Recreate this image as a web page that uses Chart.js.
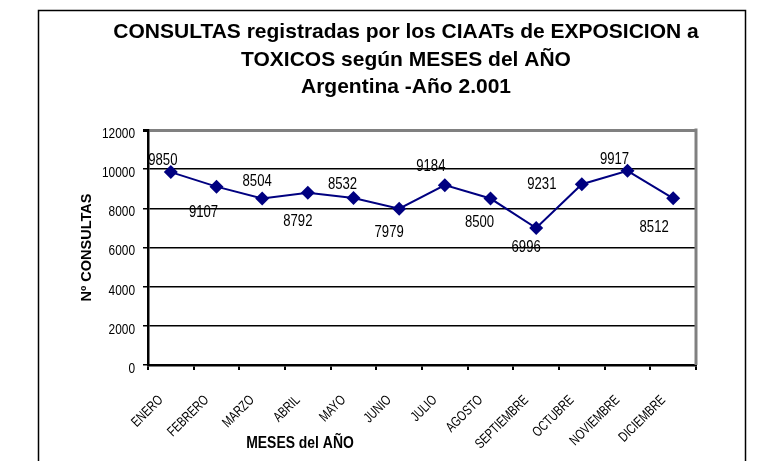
<!DOCTYPE html>
<html>
<head>
<meta charset="utf-8">
<script src="https://cdn.jsdelivr.net/npm/chart.js@4"></script>
<style>
  html, body { margin: 0; padding: 0; background: #fff; }
  #wrap { width: 776px; height: 461px; }
</style>
</head>
<body>
<div id="wrap"><canvas id="chart" width="776" height="461"></canvas></div>
<script>
const meses = ['ENERO', 'FEBRERO', 'MARZO', 'ABRIL', 'MAYO', 'JUNIO', 'JULIO', 'AGOSTO', 'SEPTIEMBRE', 'OCTUBRE', 'NOVIEMBRE', 'DICIEMBRE'];
const consultas = [9850, 9107, 8504, 8792, 8532, 7979, 9184, 8500, 6996, 9231, 9917, 8512];
const yMin = 0;
const yMax = 12000;
const yStep = 2000;

const titleLines = ['CONSULTAS registradas por los CIAATs de EXPOSICION a', 'TOXICOS según MESES del AÑO', 'Argentina -Año 2.001'];
const xTitle = 'MESES del AÑO';
const yTitle = 'Nº CONSULTAS';

// where each value label sits relative to its point (like the excel layout)
const labelOffsets = [[-8, -12], [-13, 26], [-5, -17], [-10, 29], [-11, -13], [-10, 24], [-14, -19], [-11, 24], [-10, 20], [-40, 0], [-13, -11], [-19, 29]];

const sans = "'Liberation Sans', Arial, sans-serif";

// excel squeezes its text sideways, so text is drawn with a horizontal scale
function squeezedText(ctx, text, x, y, sx, align, angle) {
    ctx.save();
    ctx.translate(x, y);
    if (angle) ctx.rotate(angle);
    ctx.scale(sx, 1);
    ctx.textAlign = align;
    ctx.fillText(text, 0, 0);
    ctx.restore();
}

const decorPlugin = {
    id: 'decor',
    beforeDraw(chart) {
        const ctx = chart.ctx;
        ctx.save();
        ctx.fillStyle = '#fff';
        ctx.fillRect(0, 0, chart.width, chart.height);
        ctx.strokeStyle = '#000';
        ctx.lineWidth = 1.5;
        ctx.strokeRect(38.5, 10.5, 707, 480);
        ctx.restore();
    },
    afterDraw(chart) {
        const ctx = chart.ctx;
        const area = chart.chartArea;
        const xs = chart.scales.x;
        const ys = chart.scales.y;
        ctx.save();
        // grey frame on the right of the plot
        ctx.strokeStyle = '#808080';
        ctx.lineWidth = 3;
        ctx.beginPath();
        ctx.moveTo(area.right, area.top - 1.5);
        ctx.lineTo(area.right, area.bottom);
        ctx.stroke();

        ctx.fillStyle = '#000';
        ctx.textBaseline = 'alphabetic';
        ctx.font = 'bold 21px ' + sans;
        for (let i = 0; i < titleLines.length; i++) {
            squeezedText(ctx, titleLines[i], 406, 38 + i * 27.5, 1, 'center');
        }
        ctx.font = 'bold 16px ' + sans;
        squeezedText(ctx, xTitle, 300, 448, 0.87, 'center');

        // tick labels
        ctx.textBaseline = 'middle';
        ctx.font = '14px ' + sans;
        ys.ticks.forEach((t) => {
            squeezedText(ctx, String(t.value), area.left - 13, ys.getPixelForValue(t.value) + 4, 0.85, 'right');
        });
        ctx.font = '14px ' + sans;
        meses.forEach((m, i) => {
            squeezedText(ctx, m, xs.getPixelForTick(i) - 10, area.bottom + 33, 0.76, 'right', -Math.PI / 4);
        });

        // value labels
        const meta = chart.getDatasetMeta(0);
        ctx.font = '16px ' + sans;
        meta.data.forEach((pt, i) => {
            squeezedText(ctx, String(consultas[i]), pt.x + labelOffsets[i][0], pt.y + labelOffsets[i][1], 0.82, 'center');
        });
        ctx.restore();
    }
};

let myChart = document.getElementById('chart').getContext('2d');

let consultasChart = new Chart(myChart, {
    type: 'line',
    data: {
        labels: meses,
        datasets: [{
            label: 'Consultas',
            data: consultas,
            borderColor: '#000080',
            backgroundColor: '#000080',
            borderWidth: 2,
            pointStyle: 'rectRot',
            pointRadius: 7,
            pointBorderWidth: 0,
            pointHoverRadius: 7,
            tension: 0,
        }]
    },
    options: {
        responsive: false,
        animation: false,
        layout: {
            padding: { top: 130, left: 76, right: 80, bottom: 0 }
        },
        plugins: {
            legend: { display: false },
            tooltip: { enabled: false },
        },
        scales: {
            x: {
                offset: true,
                afterFit(scale) { scale.height = 96; },
                grid: {
                    offset: true,
                    drawOnChartArea: false,
                    drawTicks: true,
                    tickLength: 5,
                    color: '#000',
                    lineWidth: 2,
                },
                border: { color: '#000', width: 2.5 },
                ticks: { display: false, autoSkip: false },
            },
            y: {
                min: yMin,
                max: yMax,
                afterFit(scale) { scale.width = 72; },
                ticks: { display: false, stepSize: yStep },
                grid: {
                    color: (c) => c.tick && c.tick.value === yMax ? '#808080' : '#000',
                    lineWidth: (c) => c.tick && c.tick.value === yMax ? 3 : 1.5,
                    tickLength: 5,
                    tickColor: '#000',
                },
                border: { color: '#000', width: 2.5 },
                title: {
                    display: true,
                    text: yTitle,
                    color: '#000',
                    padding: { top: 2, bottom: 0 },
                    font: { family: sans, size: 14.5, weight: 'bold' },
                },
            },
        },
    },
    plugins: [decorPlugin],
});
</script>
</body>
</html>
